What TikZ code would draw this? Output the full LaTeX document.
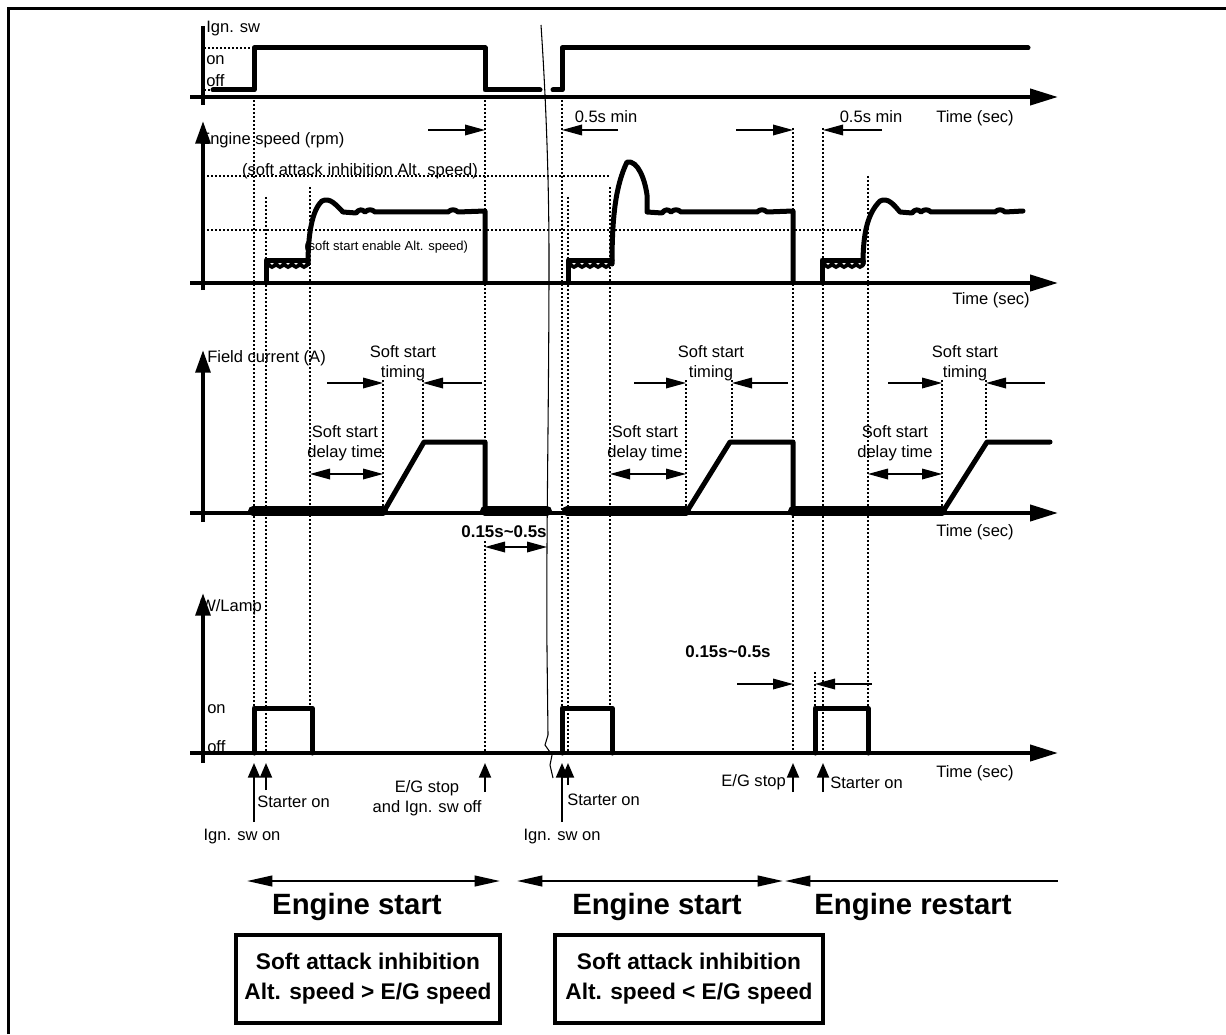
\documentclass[tikz,border=0pt]{standalone}
\usepackage{fontspec}
\setmainfont{Liberation Sans}
\usetikzlibrary{arrows.meta}
\begin{document}
\begin{tikzpicture}[x=0.75pt,y=-0.75pt,
  sig/.style={line width=3.75pt, line cap=round, line join=round},
  scallop/.style={line width=2.8pt, line cap=round},
  fieldbar/.style={line width=7.5pt, line cap=round},
  haxis/.style={line width=3pt, -{Triangle[length=21pt,width=12pt]}},
  vaxis/.style={line width=3pt, -{Triangle[length=17pt,width=11pt]}},
  plainaxis/.style={line width=3pt},
  dots/.style={line width=1.8pt, dash pattern=on 1.6pt off 1.4pt},
  dimarrow/.style={line width=0.9pt, -{Triangle[length=15pt,width=8pt]}},
  dimboth/.style={line width=0.9pt, {Triangle[length=15pt,width=8pt]}-{Triangle[length=15pt,width=8pt]}},
  uparrow/.style={line width=1.5pt, -{Triangle[length=11pt,width=9pt]}},
  spanboth/.style={line width=1.5pt, {Triangle[length=19pt,width=8pt]}-{Triangle[length=19pt,width=8pt]}},
  spanleft/.style={line width=1.5pt, {Triangle[length=19pt,width=8pt]}-},
  lbl/.style={font=\fontsize{12.4}{14}\selectfont, inner sep=0pt},
  smalllbl/.style={font=\fontsize{9.75}{11}\selectfont, inner sep=0pt},
  boldlbl/.style={font=\bfseries\fontsize{12.7}{14}\selectfont, inner sep=0pt},
  bigbold/.style={font=\bfseries\fontsize{22}{26}\selectfont, inner sep=0pt},
  infobox/.style={draw, line width=3.3pt, font=\bfseries\fontsize{17}{22.5}\selectfont, align=center, inner sep=0pt}
]
\useasboundingbox (0,0) rectangle (1226,1034);
% frame
\draw[line width=2.25pt] (8,1034) -- (8,9) -- (1226,9);

% dotted vertical guide lines
\foreach \x/\a/\b in {254/100/708, 266/197/753, 310/187/708, 383/380/510, 423/380/440,
  485/100/513, 485/541/753, 562/100/708, 568/197/753, 610/187/708, 686/380/510, 732/380/440,
  793/128/753, 815/672/708, 823/128/753, 868/176/708, 942/380/510, 986/380/440}
  \draw[dots] (\x,\a) -- (\x,\b);
% dotted level lines
\draw[dots] (204,48) -- (254,48);
\draw[dots] (204,90) -- (213,90);
\draw[dots] (203,176) -- (610,176);
\draw[dots] (203,230) -- (863,230);

% separator
\draw[line width=0.8pt] (541,25) .. controls (546,100) and (549,180) .. (549,260)
  .. controls (549,400) and (546,550) .. (547,650) -- (548,735) -- (545,745)
  -- (552,755) -- (550,765) -- (553,778);

% ---------- Panel 1 : Ign. sw ----------
\node[lbl, anchor=west] (ignsw) at (206,29) {Ign. sw};
\node[lbl, anchor=west] (on1) at (206,60) {on};
\node[lbl, anchor=west] (off1) at (206,81) {off};
\node[lbl] (time1) at (975,118) {Time (sec)};
\draw[plainaxis] (203,26) -- (203,105);
\draw[haxis] (190,97) -- (1058,97);
\draw[sig] (213,90) -- (254,90) -- (254,48) -- (485,48) -- (485,90) -- (540,90);
\draw[sig] (553,90) -- (562,90) -- (562,48) -- (1028,48);
% 0.5s min
\node[lbl] (min1) at (606,117) {0.5s min};
\node[lbl] (min2) at (871,117) {0.5s min};
\draw[dimarrow] (428,130) -- (485,130);
\draw[dimarrow] (618,130) -- (562,130);
\draw[dimarrow] (736,130) -- (793,130);
\draw[dimarrow] (882,130) -- (823,130);

% ---------- Panel 2 : Engine speed ----------
\node[lbl, anchor=west] (espeed) at (199,140) {Engine speed (rpm)};
\node[lbl] (sai) at (360,171) {(soft attack inhibition Alt. speed)};
\node[smalllbl, anchor=west] (sse) at (304,247) {(soft start enable Alt. speed)};
\node[lbl] (time2) at (991,300) {Time (sec)};
\draw[vaxis] (203,290) -- (203,121);
\draw[haxis] (190,283) -- (1058,283);
% curve 1
\draw[sig] (266,283) -- (266,260) -- (308,260);
\foreach \x in {268,276,284,292,300}
  \draw[scallop] (\x,261) .. controls (\x+0.5,269) and (\x+7.5,269) .. (\x+8,261);
\draw[sig] (308,264) .. controls (308,235) and (312,210) .. (322,201)
  .. controls (330,197) and (336,205) .. (343,212) -- (356,213)
  .. controls (359,209) and (362,209) .. (365,212) .. controls (368,209) and (372,209) .. (375,212)
  -- (448,212) .. controls (451,209) and (455,209) .. (458,212) -- (485,211) -- (485,283);
% curve 2
\draw[sig] (568,283) -- (568,260) -- (612,260);
\foreach \x in {570,578,586,594,602}
  \draw[scallop] (\x,261) .. controls (\x+0.5,269) and (\x+7.5,269) .. (\x+8,261);
\draw[sig] (612,264) .. controls (612,215) and (616,185) .. (627,162)
  .. controls (638,160) and (645,180) .. (647,195) -- (647,212) -- (662,213)
  .. controls (665,209) and (668,209) .. (671,212) .. controls (674,209) and (678,209) .. (681,212)
  -- (757,212) .. controls (760,209) and (764,209) .. (767,212) -- (793,211) -- (793,283);
% curve 3
\draw[sig] (822,283) -- (822,260) -- (863,260);
\foreach \x in {824,832,840,848,856}
  \draw[scallop] (\x,261) .. controls (\x+0.5,269) and (\x+7.5,269) .. (\x+8,261);
\draw[sig] (863,264) .. controls (863,232) and (868,213) .. (880,201)
  .. controls (888,197) and (894,205) .. (900,212) -- (912,213)
  .. controls (915,209) and (918,209) .. (921,212) .. controls (924,209) and (928,209) .. (931,212)
  -- (995,212) .. controls (998,209) and (1002,209) .. (1005,212) -- (1023,211);

% ---------- Panel 3 : Field current ----------
\node[lbl, anchor=west] (field) at (207,358) {Field current (A)};
\node[lbl] (time3) at (975,532) {Time (sec)};
\draw[vaxis] (203,522) -- (203,350);
\draw[haxis] (190,513) -- (1058,513);
\draw[fieldbar] (253,511) -- (383,511);
\draw[fieldbar] (485,511) -- (547,511);
\draw[fieldbar] (567,511) -- (686,511);
\draw[fieldbar] (793,511) -- (942,511);
\draw[sig] (383,513) -- (424,442) -- (485,442) -- (485,513);
\draw[sig] (686,513) -- (730,442) -- (793,442) -- (793,513);
\draw[sig] (942,513) -- (987,442) -- (1050,442);

\node[lbl] (sst1) at (403,352) {Soft start};
\node[lbl] (tim1) at (403,373) {timing};
\draw[dimarrow] (327,383) -- (383,383);
\draw[dimarrow] (482,383) -- (423,383);
\node[lbl] (ssd1) at (345,432) {Soft start};
\node[lbl] (del1) at (345,453) {delay time};
\draw[dimboth] (310,474) -- (383,474);

\node[lbl] (sst2) at (711,352) {Soft start};
\node[lbl] (tim2) at (711,373) {timing};
\draw[dimarrow] (634,383) -- (686,383);
\draw[dimarrow] (788,383) -- (732,383);
\node[lbl] (ssd2) at (645,432) {Soft start};
\node[lbl] (del2) at (645,453) {delay time};
\draw[dimboth] (610,474) -- (686,474);

\node[lbl] (sst3) at (965,352) {Soft start};
\node[lbl] (tim3) at (965,373) {timing};
\draw[dimarrow] (888,383) -- (942,383);
\draw[dimarrow] (1045,383) -- (986,383);
\node[lbl] (ssd3) at (895,432) {Soft start};
\node[lbl] (del3) at (895,453) {delay time};
\draw[dimboth] (868,474) -- (942,474);

\node[boldlbl] (gap1) at (504,532) {0.15s\textasciitilde 0.5s};
\draw[dimboth] (485,547) -- (547,547);

% ---------- Panel 4 : W/Lamp ----------
\node[lbl, anchor=west] (wlamp) at (200,607) {W/Lamp};
\node[lbl, anchor=west] (on4) at (207,709) {on};
\node[lbl, anchor=west] (off4) at (207,747) {off};
\node[lbl] (time4) at (975,773) {Time (sec)};
\draw[vaxis] (203,763) -- (203,593);
\draw[haxis] (190,753) -- (1058,753);
\draw[sig] (254,753) -- (254,708) -- (312,708) -- (312,753);
\draw[sig] (562,753) -- (562,708) -- (612,708) -- (612,753);
\draw[sig] (815,753) -- (815,708) -- (868,708) -- (868,753);

\node[boldlbl] (gap2) at (728,652) {0.15s\textasciitilde 0.5s};
\draw[dimarrow] (737,684) -- (793,684);
\draw[dimarrow] (872,684) -- (815,684);

% event arrows
\draw[uparrow] (254,822) -- (254,763);
\draw[uparrow] (266,790) -- (266,763);
\draw[uparrow] (485,792) -- (485,763);
\draw[uparrow] (562,822) -- (562,763);
\draw[uparrow] (568,785) -- (568,763);
\draw[uparrow] (793,792) -- (793,763);
\draw[uparrow] (823,792) -- (823,763);

\node[lbl, anchor=west] (st1) at (257,802) {Starter on};
\node[lbl, anchor=west] (st2) at (567,800) {Starter on};
\node[lbl, anchor=west] (st3) at (830,783) {Starter on};
\node[lbl] (egs1) at (427,788) {E/G stop};
\node[lbl] (egs1b) at (427,808) {and Ign. sw off};
\node[lbl, anchor=east] (egs2) at (786,782) {E/G stop};
\node[lbl] (ign1) at (242,837) {Ign. sw on};
\node[lbl] (ign2) at (562,837) {Ign. sw on};

% ---------- bottom ----------
\draw[spanboth] (247,881) -- (500,881);
\draw[spanboth] (517,881) -- (783,881);
\draw[spanleft] (785,881) -- (1058,881);
\node[bigbold] (es1) at (357,907) {Engine start};
\node[bigbold] (es2) at (657,907) {Engine start};
\node[bigbold] (er) at (913,907) {Engine restart};

\node[infobox, minimum width=198pt, minimum height=66pt] (box1) at (368,979)
  {Soft attack inhibition\\Alt. speed > E/G speed};
\node[infobox, minimum width=201pt, minimum height=66pt] (box2) at (689,979)
  {Soft attack inhibition\\Alt. speed < E/G speed};
\end{tikzpicture}
\end{document}
